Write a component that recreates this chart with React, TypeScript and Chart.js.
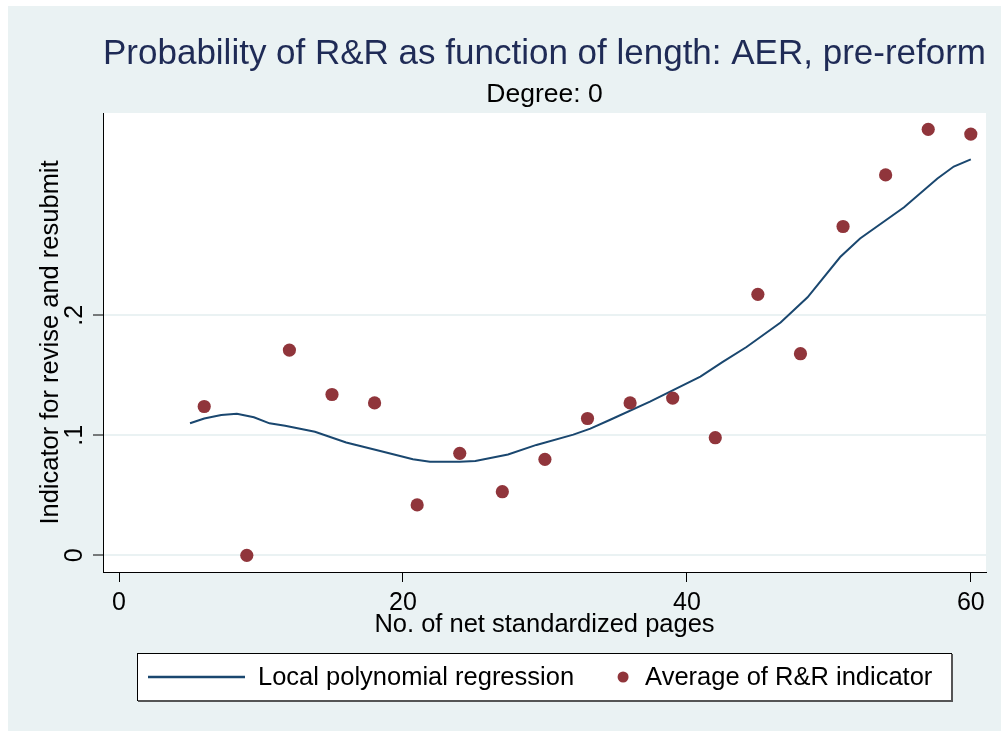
import React, { useEffect, useRef } from 'react';
import { Chart, registerables } from 'chart.js';

Chart.register(...registerables);

const FONT = "'Liberation Sans', Arial, Helvetica, sans-serif";

const titleText = 'Probability of R&R as function of length: AER, pre-reform';
const subtitleText = 'Degree: 0';
const xAxisTitle = 'No. of net standardized pages';
const yAxisTitle = 'Indicator for revise and resubmit';
const legendLabels = ['Local polynomial regression', 'Average of R&R indicator'];

const xTicks = [0, 20, 40, 60];
const yTicks = [0, 0.1, 0.2];
const yTickLabels = ['0', '.1', '.2'];

// Binned averages (scatter)
const dotPages = [6, 9, 12, 15, 18, 21, 24, 27, 30, 33, 36, 39, 42, 45, 48, 51, 54, 57, 60];
const dotRate = [0.124, 0.0, 0.171, 0.134, 0.127, 0.042, 0.085, 0.053, 0.080, 0.114, 0.127, 0.131, 0.098, 0.2175, 0.168, 0.274, 0.317, 0.355, 0.351];

// Local polynomial regression curve
const curvePages = [5.0, 6.0, 7.2, 8.3, 9.5, 10.6, 11.7, 13.8, 16.0, 18.4, 20.7, 21.9, 24.0, 25.1, 27.4, 29.4, 32.0, 33.2, 34.6, 37.4, 40.95, 42.5, 44.2, 46.6, 48.5, 50.8, 52.2, 55.3, 57.65, 58.8, 60.0];
const curveRate = [0.110, 0.114, 0.117, 0.118, 0.115, 0.110, 0.108, 0.103, 0.094, 0.087, 0.080, 0.078, 0.078, 0.0786, 0.084, 0.092, 0.1006, 0.1056, 0.113, 0.128, 0.149, 0.161, 0.1736, 0.194, 0.215, 0.2486, 0.264, 0.290, 0.314, 0.324, 0.330];

const BG = '#eaf2f3';
const NAVY = '#1a476f';
const MAROON = '#90353b';

const backgroundPlugin = {
  id: 'stataBackground',
  beforeDraw(chart: any) {
    const { ctx, chartArea, width, height } = chart;
    ctx.save();
    ctx.fillStyle = '#ffffff';
    ctx.fillRect(0, 0, width, height);
    ctx.fillStyle = BG;
    ctx.fillRect(8, 6, width - 8, 725);
    ctx.fillStyle = '#ffffff';
    ctx.fillRect(chartArea.left, chartArea.top, chartArea.right - chartArea.left, chartArea.bottom - chartArea.top);
    ctx.restore();
  },
};

const legendPlugin = {
  id: 'stataLegend',
  afterDraw(chart: any) {
    const { ctx, chartArea } = chart;
    ctx.save();
    const fontSize = 25.5;
    ctx.font = `${fontSize}px ${FONT}`;
    const boxW = 815;
    const boxTop = 653;
    const boxBottom = 701;
    const cx = (chartArea.left + chartArea.right) / 2;
    const boxLeft = Math.round(cx - boxW / 2);
    const boxRight = boxLeft + boxW;
    const cy = (boxTop + boxBottom) / 2;

    ctx.fillStyle = '#ffffff';
    ctx.fillRect(boxLeft, boxTop, boxW, boxBottom - boxTop);
    ctx.strokeStyle = '#000000';
    ctx.lineWidth = 1;
    ctx.strokeRect(boxLeft + 0.5, boxTop + 0.5, boxW - 1, boxBottom - boxTop - 1);
    ctx.strokeStyle = '#555555';
    ctx.lineWidth = 2;
    ctx.beginPath();
    ctx.moveTo(boxLeft + 1, boxBottom);
    ctx.lineTo(boxRight, boxBottom);
    ctx.lineTo(boxRight, boxTop + 1);
    ctx.stroke();

    const t1 = ctx.measureText(legendLabels[0]).width;
    let x = boxLeft + 11;
    // line sample
    ctx.strokeStyle = NAVY;
    ctx.lineWidth = 2.5;
    ctx.beginPath();
    ctx.moveTo(x, cy);
    ctx.lineTo(x + 97, cy);
    ctx.stroke();
    x += 97 + 13;
    ctx.fillStyle = '#000000';
    ctx.textBaseline = 'middle';
    ctx.textAlign = 'left';
    ctx.fillText(legendLabels[0], x, cy + 1);
    x += t1 + 43;
    // marker sample
    ctx.fillStyle = MAROON;
    ctx.beginPath();
    ctx.arc(x + 6, cy, 5.5, 0, Math.PI * 2);
    ctx.fill();
    x += 12 + 16;
    ctx.fillStyle = '#000000';
    ctx.fillText(legendLabels[1], x, cy + 1);
    ctx.restore();
  },
};

export default function App() {
  const canvasRef = useRef<HTMLCanvasElement | null>(null);

  useEffect(() => {
    const canvas = canvasRef.current;
    if (!canvas) return;
    const chart = new Chart(canvas, {
      type: 'scatter',
      data: {
        datasets: [
          {
            label: legendLabels[1],
            data: dotPages.map((p, i) => ({ x: p, y: dotRate[i] })),
            backgroundColor: MAROON,
            borderColor: MAROON,
            borderWidth: 0,
            pointRadius: 6.6,
            pointStyle: 'circle',
          },
          {
            label: legendLabels[0],
            data: curvePages.map((p, i) => ({ x: p, y: curveRate[i] })),
            showLine: true,
            borderColor: NAVY,
            borderWidth: 2,
            pointRadius: 0,
            tension: 0,
            fill: false,
          },
        ],
      },
      options: {
        animation: false,
        responsive: false,
        maintainAspectRatio: false,
        devicePixelRatio: 1,
        layout: { padding: { left: 0, right: 15, top: 0, bottom: 82 } },
        plugins: {
          legend: { display: false },
          tooltip: { enabled: false },
          title: {
            display: true,
            text: titleText,
            fullSize: false,
            color: '#1f2b56',
            font: { family: FONT, size: 35, weight: 'normal' },
            padding: { top: 33, bottom: 0 },
          },
          subtitle: {
            display: true,
            text: subtitleText,
            fullSize: false,
            color: '#000000',
            font: { family: FONT, size: 26.5, weight: 'normal' },
            padding: { top: 4, bottom: 2.2 },
          },
        },
        scales: {
          x: {
            type: 'linear',
            min: -1.13,
            max: 61.07,
            afterBuildTicks: (scale: any) => {
              scale.ticks = xTicks.map((v) => ({ value: v }));
            },
            afterFit: (scale: any) => {
              scale.height = 80;
            },
            ticks: {
              autoSkip: false,
              maxRotation: 0,
              minRotation: 0,
              padding: 6,
              color: '#000000',
              font: { family: FONT, size: 25 },
              callback: (v: any) => String(v),
            },
            grid: {
              drawOnChartArea: false,
              drawTicks: true,
              tickLength: 10,
              tickColor: '#000000',
              tickWidth: 1,
            },
            border: { display: true, color: '#000000', width: 1 },
            title: {
              display: true,
              text: xAxisTitle,
              color: '#000000',
              font: { family: FONT, size: 25.5 },
              padding: { top: 0, bottom: 11.7 },
            },
          },
          y: {
            type: 'linear',
            min: -0.0139,
            max: 0.3686,
            afterBuildTicks: (scale: any) => {
              scale.ticks = yTicks.map((v) => ({ value: v }));
            },
            afterFit: (scale: any) => {
              scale.width = 103;
            },
            ticks: {
              autoSkip: false,
              minRotation: 90,
              maxRotation: 90,
              crossAlign: 'center',
              padding: 7,
              color: '#000000',
              font: { family: FONT, size: 25 },
              callback: (v: any) => {
                const idx = yTicks.findIndex((t) => Math.abs(t - Number(v)) < 1e-9);
                return idx >= 0 ? yTickLabels[idx] : '';
              },
            },
            grid: {
              drawOnChartArea: true,
              color: BG,
              lineWidth: 2,
              drawTicks: true,
              tickLength: 10,
              tickColor: '#000000',
              tickWidth: 1,
            },
            border: { display: true, color: '#000000', width: 1 },
            title: {
              display: true,
              text: yAxisTitle,
              color: '#000000',
              font: { family: FONT, size: 25.5 },
              padding: { top: 36, bottom: 0 },
            },
          },
        },
      },
      plugins: [backgroundPlugin, legendPlugin],
    } as any);
    return () => {
      chart.destroy();
    };
  }, []);

  return (
    <div style={{ position: 'absolute', left: 0, top: 0, width: 1001, height: 734, background: '#ffffff', overflow: 'hidden' }}>
      <canvas ref={canvasRef} width={1001} height={734} style={{ display: 'block', width: 1001, height: 734 }} />
    </div>
  );
}
